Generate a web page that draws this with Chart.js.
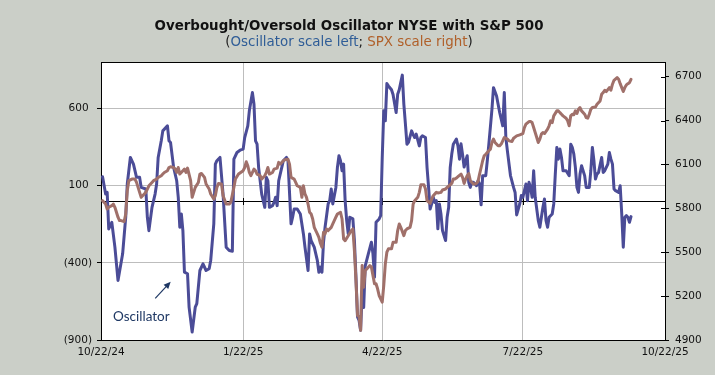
<!DOCTYPE html>
<html><head><meta charset="utf-8">
<script src="https://cdn.jsdelivr.net/npm/chart.js@4.4.1/dist/chart.umd.min.js"></script>
<style>html,body{margin:0;padding:0;background:#cbcfc8;}canvas{display:block;}</style>
</head><body>
<canvas id="c" width="715" height="375"></canvas>
<script>
// x values are calendar days after 10/22/24
const oscDays = [
  1,3,4,5,7,9,11,14,16,17,
  19,21,23,25,26,29,30,31,33,35,
  36,37,39,40,43,44,45,47,49,50,
  51,52,53,54,56,57,59,61,62,64,
  66,68,70,71,73,74,75,77,79,81,
  83,85,86,88,90,92,93,95,96,98,
  99,100,101,102,103,104,106,107,108,109,
  111,112,113,114,115,117,118,120,121,123,
  124,125,127,129,131,132,134,135,136,138,
  140,141,142,143,144,145,147,148,149,150,
  152,153,154,155,156,157,158,159,160,161,
  163,164,165,166,167,168,169,170,171,173,
  175,176,177,178,180,181,182,183,184,185,
  186,188,189,191,192,193,195,196,197,198,
  199,201,202,203,204,206,207,208,210,211,
  212,213,214,215,216,217,218,219,220,221,
  223,224,225,226,227,228,230,231,232,233,
  234,235,236,237,238,239,240,241,243,244,
  245,246,247,249,250,251,252,253,254,256,
  257,258,259,260,261,262,263,265,267,268,
  269,271,272,273,275,276,277,278,279,280,
  281,283,284,285,286,287,288,289,290,292,
  293,294,295,296,297,298,299,301,303,304,
  305,306,307,308,309,310,311,313,314,316,
  317,318,319,320,321,322,324,325,326,328,
  329,330,331,332,333,335,336,337,338,339,
  340,341,342,343
];
const oscValues = [
  157,45,56,-181,-138,-299,-514,-342,-105,110,
  282,239,153,153,88,78,-105,-192,-41,45,
  110,282,390,454,487,390,379,218,131,24,
  -170,-84,-192,-461,-471,-687,-848,-687,-665,-450,
  -407,-450,-439,-385,-148,239,261,282,45,-299,
  -321,-325,271,314,329,336,411,487,584,702,
  627,390,368,218,131,45,-41,153,131,-41,
  -30,-9,24,-30,131,218,261,282,261,-148,
  -105,-52,-52,-84,-213,-299,-450,-213,-256,-299,
  -385,-461,-428,-461,-267,-170,-19,2,78,-19,
  88,218,293,261,196,239,2,-127,-213,-105,
  -116,-256,-493,-751,-773,-837,-600,-690,-420,-342,
  -267,-342,-493,-138,-116,-95,280,584,519,760,
  745,720,690,573,691,720,815,626,500,368,
  380,454,430,411,433,357,411,422,411,218,
  88,-52,-19,24,-9,2,-180,-20,-84,-192,
  -256,-105,-41,218,304,368,401,357,271,370,
  300,220,261,293,120,88,121,121,99,131,
  110,-25,164,164,261,368,480,594,734,680,
  627,573,530,487,702,411,325,165,88,55,
  -90,-19,35,24,110,2,121,88,24,196,
  24,-127,-170,-105,-41,13,-127,-170,-105,-84,
  -19,174,347,271,336,282,196,196,164,368,
  347,304,218,88,56,174,228,164,88,88,
  196,347,261,142,174,185,282,185,196,239,
  314,271,239,78,67,56,99,-84,-299,-105,
  -95,-105,-138,-101
];
const spxDays = [
  1,3,4,5,7,8,9,11,12,13,
  15,16,17,18,20,22,23,25,26,28,
  29,31,33,34,36,37,39,40,41,43,
  44,45,47,48,49,50,51,53,54,55,
  56,58,59,60,61,63,64,65,67,68,
  70,71,73,74,75,76,78,79,81,83,
  84,86,87,89,92,93,94,95,96,97,
  99,100,101,103,104,106,107,108,109,111,
  112,114,115,116,118,119,121,122,123,125,
  126,127,129,130,131,132,133,134,135,136,
  137,138,140,141,142,143,144,145,146,147,
  149,150,152,153,155,156,157,158,160,162,
  163,164,165,166,167,168,169,170,171,172,
  174,175,177,178,179,180,182,183,184,185,
  186,188,189,191,192,193,194,196,197,198,
  200,201,202,203,205,206,207,209,210,211,
  213,214,215,217,218,220,221,223,224,226,
  227,228,229,230,231,233,234,235,236,237,
  238,239,241,242,243,244,245,246,247,248,
  249,251,252,253,254,255,257,258,259,260,
  261,263,264,266,267,269,271,273,274,275,
  277,278,279,280,281,283,284,285,286,287,
  289,290,291,292,293,295,296,297,298,299,
  301,302,303,304,305,306,307,308,309,310,
  311,313,314,315,316,317,318,320,321,323,
  324,325,326,327,329,330,331,332,334,335,
  336,337,338,339,340,341,342,343
];
const spxValues = [
  5852,5829,5795,5807,5818,5829,5807,5739,5716,5716,
  5709,5761,5920,5989,6000,6000,5977,5909,5875,5898,
  5909,5954,5977,5989,6000,6011,6023,6034,6045,6057,
  6079,6084,6079,6068,6045,6079,6034,6057,6068,6045,
  6075,5989,5875,5909,5943,5977,6034,6038,6011,5966,
  5932,5898,5863,5886,5943,5970,5966,5886,5829,5829,
  5841,5943,6000,6034,6057,6079,6118,6091,6045,6023,
  6068,6057,6034,6023,6000,6023,6045,6079,6034,6045,
  6068,6075,6114,6102,6125,6132,6136,6102,6011,6000,
  5977,5954,5943,5875,5954,5898,5875,5829,5773,5761,
  5727,5670,5625,5602,5561,5534,5636,5625,5659,5648,
  5670,5693,5739,5761,5773,5727,5591,5579,5613,5648,
  5659,5511,5307,5068,5061,4966,5409,5261,5375,5386,
  5409,5398,5284,5284,5250,5204,5159,5273,5420,5500,
  5523,5523,5568,5568,5648,5693,5670,5613,5648,5659,
  5670,5716,5829,5852,5875,5909,5961,5961,5932,5852,
  5834,5863,5886,5909,5905,5909,5925,5932,5943,5961,
  5970,6000,6000,6007,6016,6034,6011,5970,6000,6023,
  6038,5989,5966,5966,5970,5984,6034,6079,6125,6159,
  6170,6193,6204,6250,6273,6250,6227,6227,6239,6261,
  6284,6273,6261,6257,6279,6295,6302,6311,6352,6375,
  6393,6393,6386,6352,6318,6250,6273,6307,6318,6311,
  6341,6364,6398,6386,6432,6466,6466,6454,6443,6432,
  6416,6398,6364,6432,6443,6439,6466,6448,6477,6489,
  6466,6443,6420,6416,6443,6477,6489,6493,6511,6534,
  6579,6591,6607,6598,6625,6607,6648,6675,6693,6682,
  6652,6625,6598,6625,6643,6652,6659,6682
];
const xTickDays = [0, 92, 182, 273, 365];
const xTickLabels = ['10/22/24', '1/22/25', '4/22/25', '7/22/25', '10/22/25'];
const oscTicks = [-900, -400, 100, 600];
const spxTicks = [4900, 5200, 5500, 5800, 6100, 6400, 6700];
const titleText = 'Overbought/Oversold Oscillator NYSE with S&P 500';
const subtitleParts = [['(', '#222'], ['Oscillator scale left', '#2f5d97'], ['; ', '#222'], ['SPX scale right', '#b0602a'], [')', '#222']];
const annotationText = 'Oscillator';

const OSC_COLOR = '#4b4c97';
const SPX_COLOR = '#a0706a';
const GRID = '#bdbdbd';
const TICK_FONT = {family: 'DejaVu Sans', size: 10.5};

const decor = {
  id: 'decor',
  beforeDraw(chart) {
    const {ctx, chartArea: a} = chart;
    ctx.save();
    ctx.fillStyle = '#cbcfc8';
    ctx.fillRect(0, 0, chart.width, chart.height);
    ctx.fillStyle = '#ffffff';
    ctx.fillRect(a.left, a.top, a.right - a.left, a.bottom - a.top);
    ctx.restore();
  },
  beforeDatasetsDraw(chart) {
    const {ctx, chartArea: a, scales} = chart;
    const y0 = Math.round(scales.y.getPixelForValue(0)) + 0.5;
    ctx.save();
    ctx.strokeStyle = '#000';
    ctx.lineWidth = 1;
    ctx.beginPath();
    ctx.moveTo(a.left, y0); ctx.lineTo(a.right, y0);
    xTickDays.forEach(d => {
      const x = Math.round(scales.x.getPixelForValue(d)) + 0.5;
      ctx.moveTo(x, y0 - 3.5); ctx.lineTo(x, y0 + 3.5);
    });
    ctx.stroke();
    ctx.restore();
  },
  afterDraw(chart) {
    const {ctx, chartArea: a, scales} = chart;
    ctx.save();
    // top border
    ctx.strokeStyle = '#000';
    ctx.lineWidth = 1;
    ctx.beginPath();
    ctx.moveTo(a.left, Math.round(a.top) + 0.5);
    ctx.lineTo(a.right, Math.round(a.top) + 0.5);
    // inner half of right-axis cross ticks
    spxTicks.forEach(v => {
      const y = Math.round(scales.y2.getPixelForValue(v)) + 0.5;
      ctx.moveTo(a.right - 4, y); ctx.lineTo(a.right, y);
    });
    ctx.stroke();

    // title
    const cx = 349;
    ctx.fillStyle = '#111';
    ctx.textBaseline = 'alphabetic';
    ctx.textAlign = 'center';
    ctx.font = "bold 13.4px 'DejaVu Sans'";
    ctx.fillText(titleText, cx, 29.5);
    ctx.font = "13.4px 'DejaVu Sans'";
    ctx.textAlign = 'left';
    const total = subtitleParts.reduce((s, p) => s + ctx.measureText(p[0]).width, 0);
    let x = cx - total / 2;
    subtitleParts.forEach(p => {
      ctx.fillStyle = p[1];
      ctx.fillText(p[0], x, 46);
      x += ctx.measureText(p[0]).width;
    });

    // annotation
    const xs = scales.x, ys = scales.y;
    ctx.fillStyle = '#1f3864';
    ctx.font = "13.5px Lato";
    ctx.fillText(annotationText, xs.getPixelForValue(7.8), ys.getPixelForValue(-775));
    const x1 = xs.getPixelForValue(35.1), y1 = ys.getPixelForValue(-630);
    const x2 = xs.getPixelForValue(45.1), y2 = ys.getPixelForValue(-523);
    const ang = Math.atan2(y2 - y1, x2 - x1);
    ctx.strokeStyle = '#1f3864';
    ctx.lineWidth = 1.2;
    ctx.beginPath();
    ctx.moveTo(x1, y1);
    ctx.lineTo(x2 - 5 * Math.cos(ang), y2 - 5 * Math.sin(ang));
    ctx.stroke();
    ctx.beginPath();
    ctx.moveTo(x2, y2);
    ctx.lineTo(x2 - 7 * Math.cos(ang) + 3.2 * Math.sin(ang), y2 - 7 * Math.sin(ang) - 3.2 * Math.cos(ang));
    ctx.lineTo(x2 - 7 * Math.cos(ang) - 3.2 * Math.sin(ang), y2 - 7 * Math.sin(ang) + 3.2 * Math.cos(ang));
    ctx.closePath();
    ctx.fillStyle = '#1f3864';
    ctx.fill();
    ctx.restore();
  }
};

new Chart(document.getElementById('c').getContext('2d'), {
  type: 'line',
  data: {
    datasets: [
      {
        label: 'Oscillator',
        data: oscDays.map((d, i) => ({x: d, y: oscValues[i]})),
        yAxisID: 'y',
        borderColor: OSC_COLOR,
        borderWidth: 3,
        pointRadius: 0,
        tension: 0,
        borderJoinStyle: 'round',
        borderCapStyle: 'round',
        order: 2
      },
      {
        label: 'SPX',
        data: spxDays.map((d, i) => ({x: d, y: spxValues[i]})),
        yAxisID: 'y2',
        borderColor: SPX_COLOR,
        borderWidth: 3,
        pointRadius: 0,
        tension: 0,
        borderJoinStyle: 'round',
        borderCapStyle: 'round',
        order: 1
      }
    ]
  },
  options: {
    responsive: false,
    animation: false,
    devicePixelRatio: 1,
    layout: {padding: {top: 62, left: 0, right: 0, bottom: 0}},
    plugins: {legend: {display: false}, tooltip: {enabled: false}, title: {display: false}},
    scales: {
      x: {
        type: 'linear', min: 0, max: 365,
        afterBuildTicks: s => { s.ticks = xTickDays.map(v => ({value: v})); },
        afterFit: s => { s.height = 35; },
        ticks: {
          autoSkip: false, maxRotation: 0, minRotation: 0, padding: 6,
          color: '#111', font: TICK_FONT,
          callback: v => { const i = xTickDays.indexOf(v); return i >= 0 ? xTickLabels[i] : ''; }
        },
        grid: {
          color: c => (c.tick && (c.tick.value === 0 || c.tick.value === 365)) ? 'rgba(0,0,0,0)' : GRID,
          drawTicks: false, lineWidth: 1
        },
        border: {display: true, color: '#000', width: 1}
      },
      y: {
        position: 'left', min: -900, max: 900,
        afterBuildTicks: s => { s.ticks = oscTicks.map(v => ({value: v})); },
        afterFit: s => { s.width = 101; },
        ticks: {
          padding: 5, color: '#111', font: TICK_FONT,
          callback: v => v < 0 ? '(' + Math.abs(v) + ')' : v + ' '
        },
        grid: {
          color: c => (c.tick && c.tick.value === -900) ? 'rgba(0,0,0,0)' : GRID,
          drawTicks: true, tickLength: 4, tickColor: '#000', lineWidth: 1
        },
        border: {display: true, color: '#000', width: 1}
      },
      y2: {
        position: 'right', min: 4900, max: 6800,
        afterBuildTicks: s => { s.ticks = spxTicks.map(v => ({value: v})); },
        afterFit: s => { s.width = 50; },
        ticks: {padding: 6, color: '#111', font: TICK_FONT, callback: v => String(v)},
        grid: {drawOnChartArea: false, drawTicks: true, tickLength: 4, tickColor: '#000'},
        border: {display: true, color: '#000', width: 1}
      }
    }
  },
  plugins: [decor]
});
</script>
</body></html>
